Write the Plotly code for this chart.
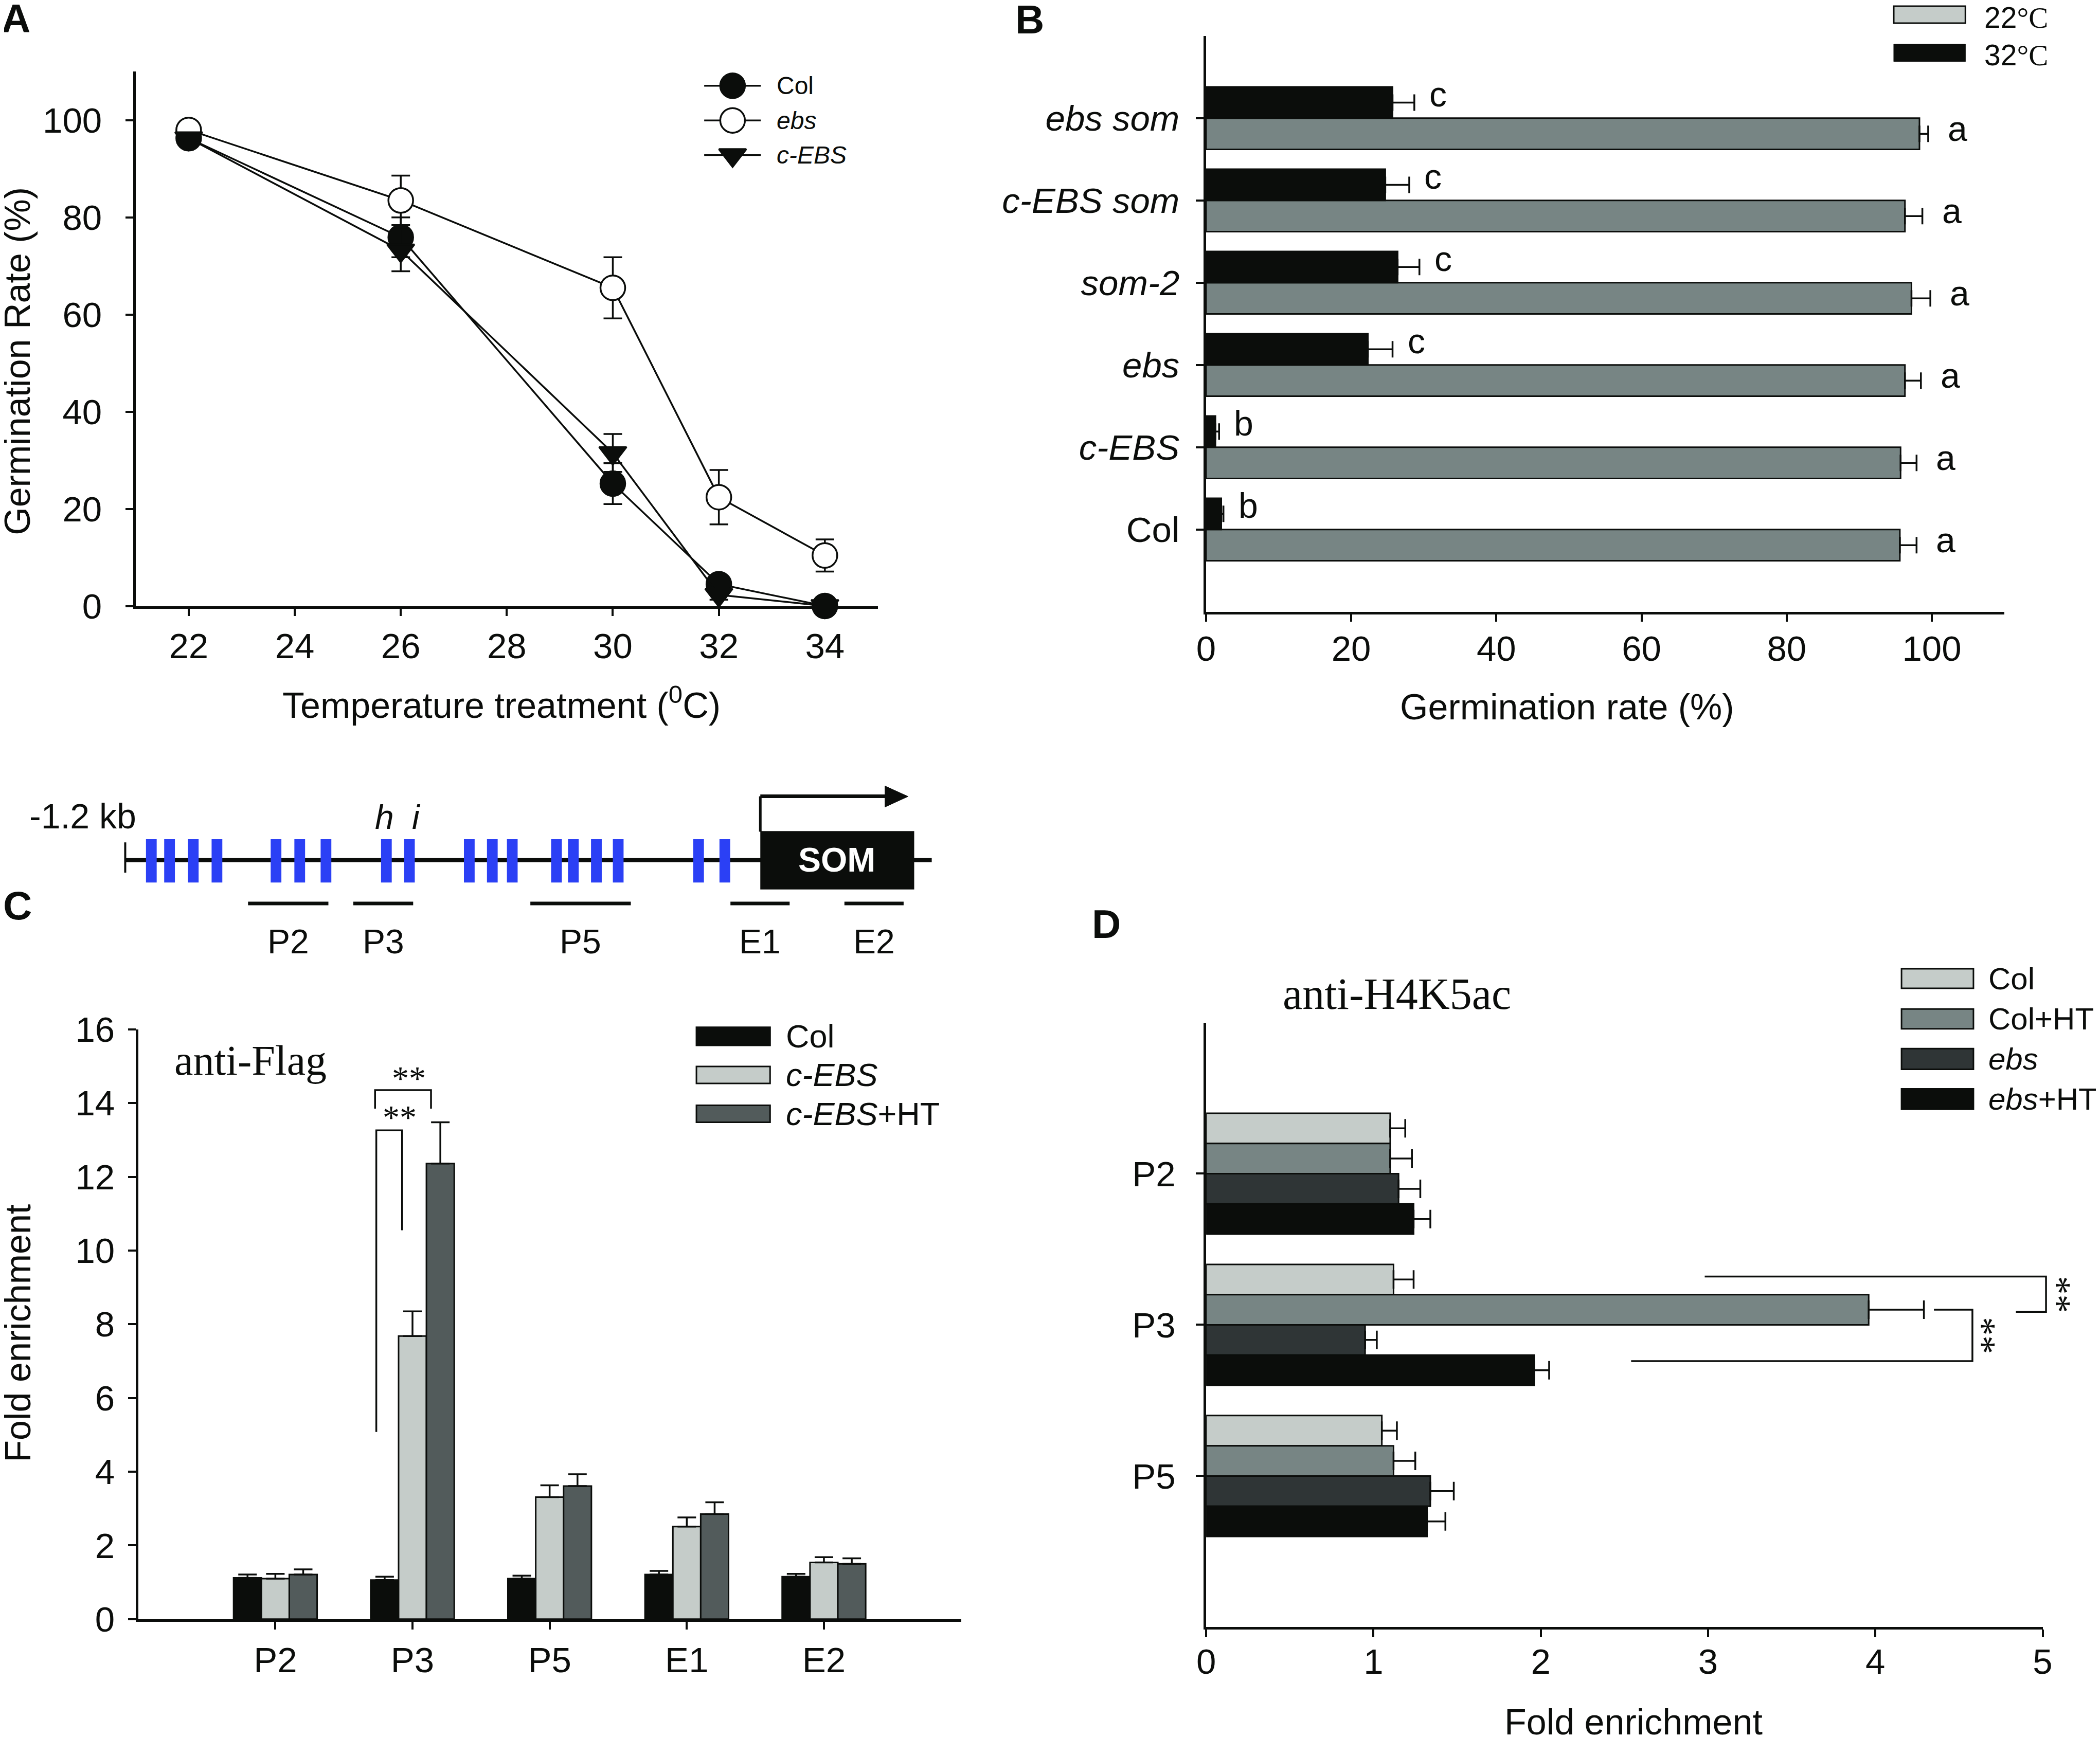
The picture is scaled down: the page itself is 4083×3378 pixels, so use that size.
import plotly.graph_objects as go

# ---------------- reference layout grid ----------------
W, H = 4083, 3378
GW, GH = 1568, 1297
PAD = 8  # page body margin in px (the figure is drawn 8px from the page corner)
PADX = PAD * GW / W
PADY = PAD * GH / H


def fx(x):
    return (x * W / GW - PAD) / W


def fy(y):
    return 1 - (y * H / GH - PAD) / H


SANS = "Liberation Sans, Arial, Helvetica, sans-serif"
SERIF = "Liberation Serif, Times New Roman, Times, serif"
INK = "#0b0d0b"
LIGHT = "#c5ccc9"
MID = "#778584"
DARK_C = "#525b5b"
DARK_D = "#2f3536"
BLUE = "#2b40f5"

# ---------------- data: panel A ----------------
temps = [22, 26, 30, 32, 34]
a_series = ["Col", "ebs", "c-EBS"]
a_col = [96.3, 75.9, 25.2, 4.5, 0.0]
a_col_err = [1.0, 4.1, 4.2, 1.0, 0.5]
a_ebs = [98.0, 83.5, 65.5, 22.4, 10.4]
a_ebs_err = [1.0, 5.1, 6.3, 5.6, 3.3]
a_cebs = [96.3, 73.2, 31.5, 2.3, 0.0]
a_cebs_err = [1.0, 4.3, 3.9, 1.0, 0.5]

# ---------------- data: panel B ----------------
b_lines = ["Col", "c-EBS", "ebs", "som-2", "c-EBS som", "ebs som"]
b_italic = [False, True, True, True, True, True]
b_22 = [95.6, 95.7, 96.3, 97.2, 96.3, 98.3]
b_22_err = [2.3, 2.2, 2.2, 2.6, 2.4, 1.2]
b_32 = [2.1, 1.3, 22.3, 26.4, 24.7, 25.7]
b_32_err = [0.3, 0.5, 3.4, 3.0, 3.3, 3.0]
b_22_sig = ["a", "a", "a", "a", "a", "a"]
b_32_sig = ["b", "b", "c", "c", "c", "c"]

# ---------------- data: panel C ----------------
c_sites = ["P2", "P3", "P5", "E1", "E2"]
c_groups = ["Col", "c-EBS", "c-EBS+HT"]
c_col = [1.12, 1.06, 1.10, 1.21, 1.15]
c_col_err = [0.09, 0.09, 0.08, 0.10, 0.08]
c_cebs = [1.10, 7.68, 3.31, 2.51, 1.54]
c_cebs_err = [0.13, 0.67, 0.32, 0.25, 0.14]
c_ht = [1.21, 12.36, 3.61, 2.85, 1.50]
c_ht_err = [0.14, 1.12, 0.32, 0.32, 0.15]

# ---------------- data: panel D ----------------
d_sites = ["P2", "P3", "P5"]
d_groups = ["Col", "Col+HT", "ebs", "ebs+HT"]
d_col = [1.10, 1.12, 1.05]
d_col_err = [0.09, 0.12, 0.09]
d_colht = [1.10, 3.96, 1.12]
d_colht_err = [0.13, 0.33, 0.13]
d_ebs = [1.15, 0.95, 1.34]
d_ebs_err = [0.13, 0.07, 0.14]
d_ebsht = [1.24, 1.96, 1.32]
d_ebsht_err = [0.10, 0.09, 0.11]

# ---------------- gene schematic (layout grid units) ----------------
ebox_x = [113, 126.6, 144.3, 162, 206.1, 223.8, 243.4, 288.5, 305.7,
          350.4, 367.6, 382.5, 415.5, 428.1, 445.3, 461.6, 521.6, 541.2]
probe_names = ["P2", "P3", "P5", "E1", "E2"]
probe_span = [(185.2, 245.2), (263.8, 308.5), (396, 471), (545.4, 589.6), (630.5, 674.7)]

AX_LW = 4.5
TICKLEN = 15
TFS = 69
BAR_LW = 3
ERR_T = 3.5

fig = go.Figure()

# ================= Panel A =================
a_style = {
    "Col": dict(symbol="circle", color=INK, size=48),
    "ebs": dict(symbol="circle", color="white", size=48),
    "c-EBS": dict(symbol="triangle-down", color=INK, size=46),
}
for name, vals, errs in zip(a_series, [a_col, a_ebs, a_cebs], [a_col_err, a_ebs_err, a_cebs_err]):
    st = a_style[name]
    fig.add_trace(go.Scatter(
        x=temps, y=vals, mode="lines+markers", xaxis="x", yaxis="y", name=name,
        line=dict(color=INK, width=3.5),
        marker=dict(symbol=st["symbol"], size=st["size"], color=st["color"],
                    line=dict(color=INK, width=3.5)),
        error_y=dict(type="data", array=errs, color=INK, thickness=ERR_T, width=18),
        cliponaxis=False, showlegend=False))

# ================= Panel B =================
b_y = list(range(len(b_lines)))
BW = 0.38
fig.add_trace(go.Bar(
    x=b_22, y=b_y, orientation="h", xaxis="x2", yaxis="y2", name="22 °C",
    width=BW, offset=-BW, marker=dict(color=MID, line=dict(color=INK, width=BAR_LW)),
    error_x=dict(type="data", symmetric=False, array=b_22_err, arrayminus=[0] * 6,
                 color=INK, thickness=ERR_T, width=16),
    showlegend=False))
fig.add_trace(go.Bar(
    x=b_32, y=b_y, orientation="h", xaxis="x2", yaxis="y2", name="32 °C",
    width=BW, offset=0, marker=dict(color=INK, line=dict(color=INK, width=BAR_LW)),
    error_x=dict(type="data", symmetric=False, array=b_32_err, arrayminus=[0] * 6,
                 color=INK, thickness=ERR_T, width=16),
    showlegend=False))

# ================= Panel C =================
c_x = list(range(len(c_sites)))
CW = 0.203
for vals, errs, col, off in zip([c_col, c_cebs, c_ht], [c_col_err, c_cebs_err, c_ht_err],
                                [INK, LIGHT, DARK_C], [-1.5 * CW, -0.5 * CW, 0.5 * CW]):
    fig.add_trace(go.Bar(
        x=c_x, y=vals, xaxis="x3", yaxis="y3", width=CW, offset=off,
        marker=dict(color=col, line=dict(color=INK, width=BAR_LW)),
        error_y=dict(type="data", symmetric=False, array=errs, arrayminus=[0] * len(vals),
                     color=INK, thickness=ERR_T, width=18),
        showlegend=False))

# ================= Panel D =================
d_y = list(range(len(d_sites)))
DW = 0.2
for vals, errs, col, off in zip([d_col, d_colht, d_ebs, d_ebsht],
                                [d_col_err, d_colht_err, d_ebs_err, d_ebsht_err],
                                [LIGHT, MID, DARK_D, INK], [-2 * DW, -DW, 0, DW]):
    fig.add_trace(go.Bar(
        x=vals, y=d_y, orientation="h", xaxis="x4", yaxis="y4", width=DW, offset=off,
        marker=dict(color=col, line=dict(color=INK, width=BAR_LW)),
        error_x=dict(type="data", symmetric=False, array=errs, arrayminus=[0] * len(vals),
                     color=INK, thickness=ERR_T, width=18),
        showlegend=False))

# ================= legend markers for A (overlay grid) =================
leg_a_y = [64, 89.9, 115.8]
for name, yy in zip(a_series, leg_a_y):
    st = a_style[name]
    fig.add_trace(go.Scatter(
        x=[547], y=[yy], mode="markers", xaxis="x5", yaxis="y5",
        marker=dict(symbol=st["symbol"], size=st["size"], color=st["color"],
                    line=dict(color=INK, width=3.5)),
        cliponaxis=False, showlegend=False, hoverinfo="skip"))

shapes = []
annos = []


def gline(x0, y0, x1, y1, w=4, color=INK):
    shapes.append(dict(type="line", xref="x5", yref="y5", x0=x0, y0=y0, x1=x1, y1=y1,
                       line=dict(color=color, width=w), layer="below"))


def grect(x0, y0, x1, y1, fill, lw=0, lc=INK):
    shapes.append(dict(type="rect", xref="x5", yref="y5", x0=x0, y0=y0, x1=x1, y1=y1,
                       fillcolor=fill, line=dict(color=lc, width=lw), layer="above"))


def gtext(x, y, text, size=TFS, family=SANS, color=INK, xanchor="center",
          yanchor="middle", angle=0):
    annos.append(dict(xref="x5", yref="y5", x=x, y=y, text=text, showarrow=False,
                      xanchor=xanchor, yanchor=yanchor, textangle=angle,
                      font=dict(family=family, size=size, color=color)))


# legend A lines + text
for name, yy in zip(a_series, leg_a_y):
    gline(525.8, yy, 568, yy, w=3.5)
    label = name if name == "Col" else "<i>%s</i>" % name
    gtext(579.2, yy, label, size=48, xanchor="left")

# legend B
grect(1414, 4.6, 1467.5, 17.3, LIGHT, lw=3)
grect(1414, 33, 1467.5, 46, INK, lw=1)
gtext(1480.8, 13, "22<span style='font-family:Liberation Serif'>°C</span>", size=57, xanchor="left")
gtext(1480.8, 41, "32<span style='font-family:Liberation Serif'>°C</span>", size=57, xanchor="left")

# legend C
for (y0, y1), col, name in zip([(767, 780.6), (796.3, 809), (825.3, 838)],
                               [INK, LIGHT, DARK_C],
                               ["Col", "<i>c-EBS</i>", "<i>c-EBS</i>+HT"]):
    grect(520, y0, 575, y1, col, lw=3)
    gtext(586, (y0 + y1) / 2, name, size=63, xanchor="left")

# legend D
for (y0, y1), col, name in zip([(723.4, 738), (753.4, 768.2), (783, 798.4), (813, 828.3)],
                               [LIGHT, MID, DARK_D, INK],
                               ["Col", "Col+HT", "<i>ebs</i>", "<i>ebs</i>+HT"]):
    grect(1419.8, y0, 1473.5, y1, col, lw=3)
    gtext(1484, (y0 + y1) / 2, name, size=60, xanchor="left")

# gene schematic
gline(93.5, 642.3, 695.7, 642.3, w=8)
gline(93.5, 629, 93.5, 651.6, w=4)
for xc in ebox_x:
    shapes.append(dict(type="rect", xref="x5", yref="y5", x0=xc - 4, x1=xc + 4, y0=626.6, y1=659,
                       fillcolor=BLUE, line=dict(width=0), layer="above"))
grect(567.7, 620.6, 682.6, 664.1, INK)
gline(567.7, 621, 567.7, 594.6, w=5)
gline(567.7, 594.6, 662, 594.6, w=7)
shapes.append(dict(type="path", xref="x5", yref="y5",
                   path="M 660.8,586.9 L 678,594.7 L 660.8,602.6 Z",
                   fillcolor=INK, line=dict(color=INK, width=1)))
for name, (x0, x1) in zip(probe_names, probe_span):
    gline(x0, 674.6, x1, 674.6, w=7)
    gtext((x0 + x1) / 2, 703, name, size=66)
gtext(625, 642, "<b>SOM</b>", size=66, color="white")
gtext(61.7, 609.3, "-1.2 kb", size=68)
gtext(287, 610, "<i>h</i>", size=66)
gtext(311, 610, "<i>i</i>", size=66)

# panel letters
for lab, (x, y) in zip("ABCD", [(12, 14), (769, 14.5), (13, 676), (826, 690)]):
    gtext(x, y, "<b>%s</b>" % lab, size=78)

# axis titles
gtext(374.5, 525, "Temperature treatment (<sup>0</sup>C)", size=70)
gtext(13, 269.5, "Germination Rate (%)", size=70, angle=-90)
gtext(1170, 528, "Germination rate (%)", size=70)
gtext(13.5, 995.4, "Fold enrichment", size=70, angle=-90)
gtext(1219.7, 1286, "Fold enrichment", size=70)
gtext(187, 792, "anti-Flag", size=82, family=SERIF)
gtext(1043, 742, "anti-H4K5ac", size=86, family=SERIF)

# panel B significance letters
for i in range(len(b_lines)):
    annos.append(dict(xref="x2", yref="y2", x=b_32[i] + b_32_err[i], y=i + BW / 2,
                      text=b_32_sig[i], showarrow=False, xanchor="left", yanchor="middle",
                      xshift=27, yshift=16, font=dict(family=SANS, size=68, color=INK)))
    annos.append(dict(xref="x2", yref="y2", x=b_22[i] + b_22_err[i], y=i - BW / 2,
                      text=b_22_sig[i], showarrow=False, xanchor="left", yanchor="middle",
                      xshift=36, yshift=10, font=dict(family=SANS, size=68, color=INK)))

# panel C significance brackets (data units)
shapes.append(dict(type="path", xref="x3", yref="y3",
                   path="M 0.736,5.08 L 0.736,13.26 L 0.924,13.26 L 0.924,10.55",
                   line=dict(color=INK, width=3.5)))
shapes.append(dict(type="path", xref="x3", yref="y3",
                   path="M 0.727,13.85 L 0.727,14.35 L 1.135,14.35 L 1.135,13.85",
                   line=dict(color=INK, width=3.5)))
annos.append(dict(xref="x3", yref="y3", x=0.905, y=13.62, text="**", showarrow=False,
                  font=dict(family=SERIF, size=66, color=INK)))
annos.append(dict(xref="x3", yref="y3", x=0.975, y=14.68, text="**", showarrow=False,
                  font=dict(family=SERIF, size=66, color=INK)))

# panel D significance brackets (converted to axis-domain fractions)
D_XR = (0, 5)
D_YR = (3, -1)


def dfx(v):
    return (v - D_XR[0]) / (D_XR[1] - D_XR[0])


def dfy(v):
    return (v - D_YR[0]) / (D_YR[1] - D_YR[0])


def dpath(pts):
    return "M " + " L ".join("%.4f,%.4f" % (dfx(a), dfy(b)) for a, b in pts)


shapes.append(dict(type="path", xref="x4 domain", yref="y4 domain",
                   path=dpath([(2.98, 0.68), (5.02, 0.68), (5.02, 0.914), (4.84, 0.914)]),
                   line=dict(color=INK, width=3.5)))
shapes.append(dict(type="path", xref="x4 domain", yref="y4 domain",
                   path=dpath([(2.54, 1.24), (4.58, 1.24), (4.58, 0.90), (4.35, 0.90)]),
                   line=dict(color=INK, width=3.5)))
annos.append(dict(xref="x4 domain", yref="y4 domain", x=dfx(5.22), y=dfy(0.80), text="**",
                  showarrow=False, textangle=90, font=dict(family=SERIF, size=72, color=INK)))
annos.append(dict(xref="x4 domain", yref="y4 domain", x=dfx(4.77), y=dfy(1.07), text="**",
                  showarrow=False, textangle=90, font=dict(family=SERIF, size=72, color=INK)))


def ax(**kw):
    d = dict(showline=True, linecolor=INK, linewidth=AX_LW, ticks="outside", ticklen=TICKLEN,
             tickwidth=3.5, tickcolor=INK, showgrid=False, zeroline=False, fixedrange=True,
             automargin=False, tickfont=dict(family=SANS, size=TFS, color=INK))
    d.update(kw)
    return d


b_ticktext = [("<i>%s</i>" % n) if it else n for n, it in zip(b_lines, b_italic)]

fig.update_layout(
    width=W, height=H, autosize=False,
    margin=dict(l=0, r=0, t=0, b=0, pad=0, autoexpand=False),
    paper_bgcolor="white", plot_bgcolor="rgba(0,0,0,0)",
    barmode="overlay", showlegend=False,
    font=dict(family=SANS, color=INK),
    xaxis=ax(domain=[fx(101.3), fx(655.5)], range=[21, 35], tickvals=[22, 24, 26, 28, 30, 32, 34],
             anchor="y", ticklabelstandoff=-1),
    yaxis=ax(domain=[fy(452.5), fy(53.5)], range=[0, 110], tickvals=[0, 20, 40, 60, 80, 100],
             anchor="x", ticklabelstandoff=32),
    xaxis2=ax(domain=[fx(900.5), fx(1496.6)], range=[0, 110], tickvals=[0, 20, 40, 60, 80, 100],
              anchor="y2", ticklabelstandoff=-7),
    yaxis2=ax(domain=[fy(456.8), fy(26.8)], range=[-1, 6], tickvals=b_y, ticktext=b_ticktext,
              anchor="x2", ticklabelstandoff=18),
    xaxis3=ax(domain=[fx(103.2), fx(717.6)], range=[-1, 5], tickvals=c_x, ticktext=c_sites,
              anchor="y3", ticklabelstandoff=1),
    yaxis3=ax(domain=[fy(1209), fy(768.6)], range=[0, 16], tickvals=list(range(0, 17, 2)),
              anchor="x3", ticklabelstandoff=12),
    xaxis4=ax(domain=[fx(900.6), fx(1525.2)], range=list(D_XR), tickvals=[0, 1, 2, 3, 4, 5],
              anchor="y4", ticklabelstandoff=-12),
    yaxis4=ax(domain=[fy(1215), fy(763.5)], range=list(D_YR), tickvals=d_y, ticktext=d_sites,
              anchor="x4", ticklabelstandoff=26),
    xaxis5=dict(domain=[0, 1], range=[PADX, GW + PADX], visible=False, fixedrange=True, anchor="y5"),
    yaxis5=dict(domain=[0, 1], range=[GH + PADY, PADY], visible=False, fixedrange=True, anchor="x5"),
    shapes=shapes, annotations=annos,
)

fig.write_html("out.html")
